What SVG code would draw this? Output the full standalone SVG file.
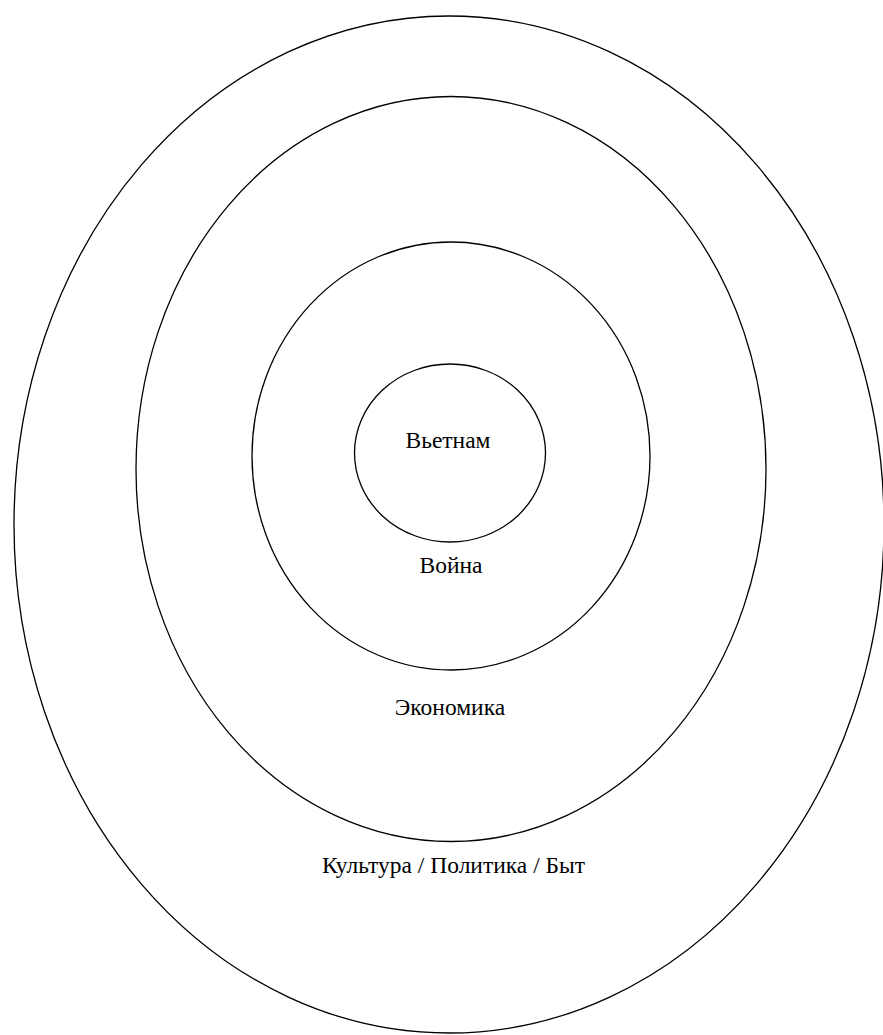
<svg xmlns="http://www.w3.org/2000/svg" width="883" height="1035" viewBox="0 0 883 1035">
<style>
.ring{fill:none;stroke:#000;stroke-width:1.3}
.lbl{font-family:"Liberation Serif","Times New Roman",serif;font-size:23.5px;fill:#000;text-anchor:middle}
</style>
<rect width="883" height="1035" fill="#fff"/>
<g id="ring-culture">
<ellipse class="ring" cx="449" cy="524.5" rx="435" ry="508.5"/>
<text class="lbl" x="453.5" y="873">Культура / Политика / Быт</text>
</g>
<g id="ring-economy">
<ellipse class="ring" cx="451" cy="469" rx="315" ry="372.5"/>
<text class="lbl" x="450" y="715">Экономика</text>
</g>
<g id="ring-war">
<ellipse class="ring" cx="451" cy="456" rx="199" ry="214"/>
<text class="lbl" x="451" y="573">Война</text>
</g>
<g id="ring-vietnam">
<ellipse class="ring" cx="450" cy="453" rx="95.5" ry="89"/>
<text class="lbl" x="448" y="448">Вьетнам</text>
</g>
<g id="connectors"/>
</svg>
